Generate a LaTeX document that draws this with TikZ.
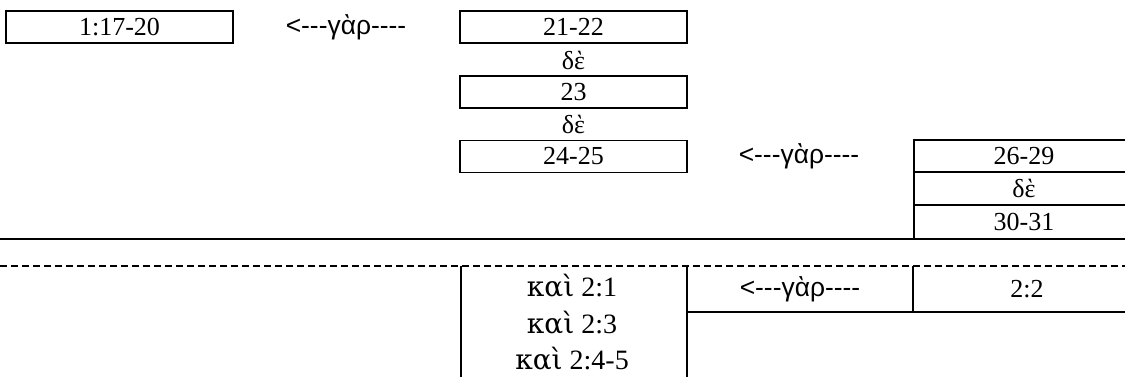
\documentclass[tikz,border=0pt]{standalone}
\usepackage{fontspec}
\setmainfont{Liberation Serif}
\newfontfamily\garfont{Liberation Sans}
\newfontfamily\grkfont{DejaVu Serif}

\tikzset{
	every node/.style={font=\fontsize{13pt}{15pt}\selectfont},
	versebox/.style={draw, line width=0.8pt, minimum width=113.5pt, minimum height=16pt, inner sep=0pt},
	conj/.style={inner sep=0pt},
	kairow/.style={inner sep=0pt, anchor=base, font=\fontsize{14pt}{16pt}\selectfont},
	garlabel/.style={inner sep=0pt, font=\garfont\fontsize{13.2pt}{15pt}\selectfont},
	rule/.style={line width=0.8pt},
	cutline/.style={line width=0.7pt, dash pattern=on 3.5pt off 2pt},
}

\begin{document}
\begin{tikzpicture}[x=0.5pt,y=-0.5pt]
	\useasboundingbox (0,0) rectangle (1125,377);

	\node[versebox] (v117) at (119.5,27) {1:17-20};
	\node[garlabel] (gar1) at (346,27) {<---γὰρ----};

	\node[versebox] (v21) at (573.5,27) {21-22};
	\node[conj] (de1) at (573.5,60) {δὲ};
	\node[versebox] (v23) at (573.5,92) {23};
	\node[conj] (de2) at (573.5,124) {δὲ};
	\node[versebox] (v24) at (573.5,156.5) {24-25};
	\node[garlabel] (gar2) at (799,156.5) {<---γὰρ----};

	\draw[rule] (1125,140) -- (914,140) -- (914,239);
	\draw[rule] (914,172) -- (1125,172);
	\draw[rule] (914,205) -- (1125,205);
	\node[conj] (v26) at (1024,156) {26-29};
	\node[conj] (de3) at (1024,188.5) {δὲ};
	\node[conj] (v30) at (1024,222) {30-31};

	\draw[rule] (0,239) -- (1125,239);
	\draw[cutline] (0,266) -- (1125,266);

	\draw[rule] (461,266) -- (461,377);
	\draw[rule] (687,266) -- (687,377);
	\draw[rule] (687,312) -- (1125,312);
	\draw[rule] (913,266) -- (913,312);
	\node[kairow] (k1) at (572,296) {{\grkfont καὶ} 2:1};
	\node[kairow] (k3) at (572,333) {{\grkfont καὶ} 2:3};
	\node[kairow] (k4) at (572,369) {{\grkfont καὶ} 2:4-5};
	\node[garlabel] (gar3) at (800,289) {<---γὰρ----};
	\node[conj] (v2) at (1027,289) {2:2};
\end{tikzpicture}
\end{document}
